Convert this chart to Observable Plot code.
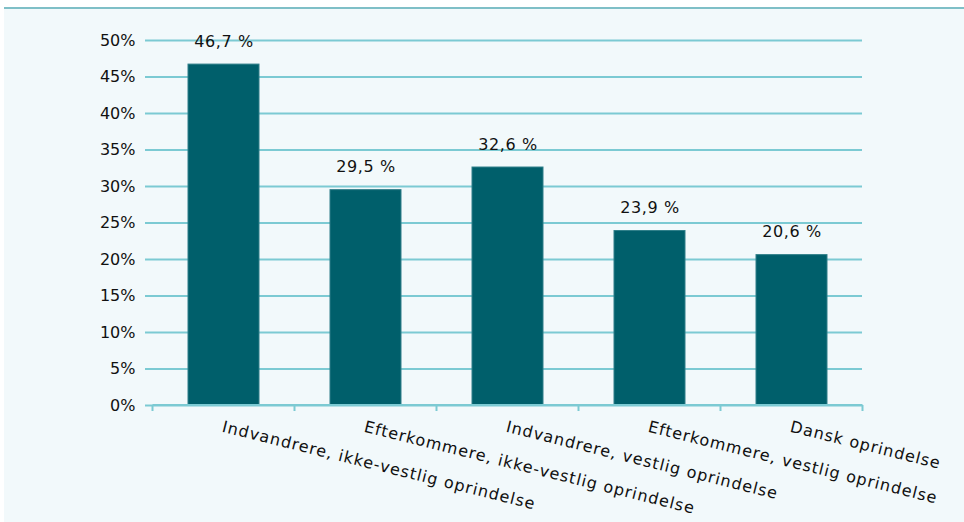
<!DOCTYPE html>
<html>
<head>
<meta charset="utf-8">
<script src="https://cdn.jsdelivr.net/npm/d3@7"></script>
<script src="https://cdn.jsdelivr.net/npm/@observablehq/plot@0.6"></script>
<style>
  html, body { margin: 0; padding: 0; background: #ffffff; }
  #wrap { position: relative; width: 964px; height: 522px; overflow: hidden; }
  #panel { position: absolute; left: 4px; top: 7px; width: 960px; height: 515px; background: #f2f9fb; border-top: 2px solid #7fbfc7; box-sizing: border-box; }
  #chart { position: absolute; left: 0; top: 0; }
</style>
</head>
<body>
<div id="wrap"><div id="panel"></div><div id="chart"></div></div>
<script>
const categories = [
  "Indvandrere, ikke-vestlig oprindelse",
  "Efterkommere, ikke-vestlig oprindelse",
  "Indvandrere, vestlig oprindelse",
  "Efterkommere, vestlig oprindelse",
  "Dansk oprindelse"
];
const values = [46.7, 29.5, 32.6, 23.9, 20.6];
const yTicks = [0, 5, 10, 15, 20, 25, 30, 35, 40, 45, 50];

const data = categories.map((c, i) => ({category: c, value: values[i]}));
const fmt = v => v.toFixed(1).replace(".", ",") + " %";
const gridColor = "#7ccad3";

const plot = Plot.plot({
  width: 964,
  height: 522,
  marginLeft: 152,
  marginRight: 102,
  marginTop: 40,
  marginBottom: 117,
  style: {background: "transparent", fontFamily: "DejaVu Sans", fontSize: "16px", color: "#111"},
  x: {domain: categories, paddingInner: 0.5, paddingOuter: 0.25, axis: null},
  y: {domain: [0, 50], ticks: yTicks, axis: null, label: null},
  marks: [
    Plot.gridY(yTicks, {stroke: gridColor, strokeOpacity: 1, strokeWidth: 2}),
    Plot.axisY(yTicks, {label: null, tickFormat: d => d + "%", tickSize: 7, tickPadding: 10, stroke: gridColor, strokeWidth: 2, fontSize: 16, fill: "#111"}),
    Plot.ruleX([0], {frameAnchor: "left", stroke: gridColor, strokeWidth: 2}),
    Plot.barY(data, {x: "category", y: "value", fill: "#005f6b", stroke: "#2f7f89", strokeWidth: 1}),
    Plot.text(data, {x: "category", y: "value", text: d => fmt(d.value), lineAnchor: "bottom", dy: -18, fontSize: 16, fill: "#111", className: "vlabel"}),
    Plot.text(categories, {x: d => d, frameAnchor: "bottom", textAnchor: "start", lineAnchor: "top", rotate: 14, dy: 15, fontSize: 16, fill: "#111", className: "xlabel"})
  ]
});

document.getElementById("chart").appendChild(plot);

d3.select(plot).selectAll(".xlabel text").style("letter-spacing", "1px");
d3.select(plot).selectAll(".vlabel text").style("letter-spacing", "0.6px");

// x axis line and tick marks at category boundaries, from the band scale
const xs = plot.scale("x");
const ys = plot.scale("y");
const svg = d3.select(plot);
const y0 = ys.apply(0);
const bounds = [];
categories.forEach((c, i) => {
  const center = xs.apply(c) + xs.bandwidth / 2;
  if (i === 0) bounds.push(center - xs.step / 2);
  bounds.push(center + xs.step / 2);
});
const g = svg.append("g").attr("stroke", gridColor).attr("stroke-width", 2);
g.append("line").attr("x1", bounds[0]).attr("x2", bounds[bounds.length - 1]).attr("y1", y0).attr("y2", y0);
bounds.forEach(b => g.append("line").attr("x1", b).attr("x2", b).attr("y1", y0).attr("y2", y0 + 6));
</script>
</body>
</html>
